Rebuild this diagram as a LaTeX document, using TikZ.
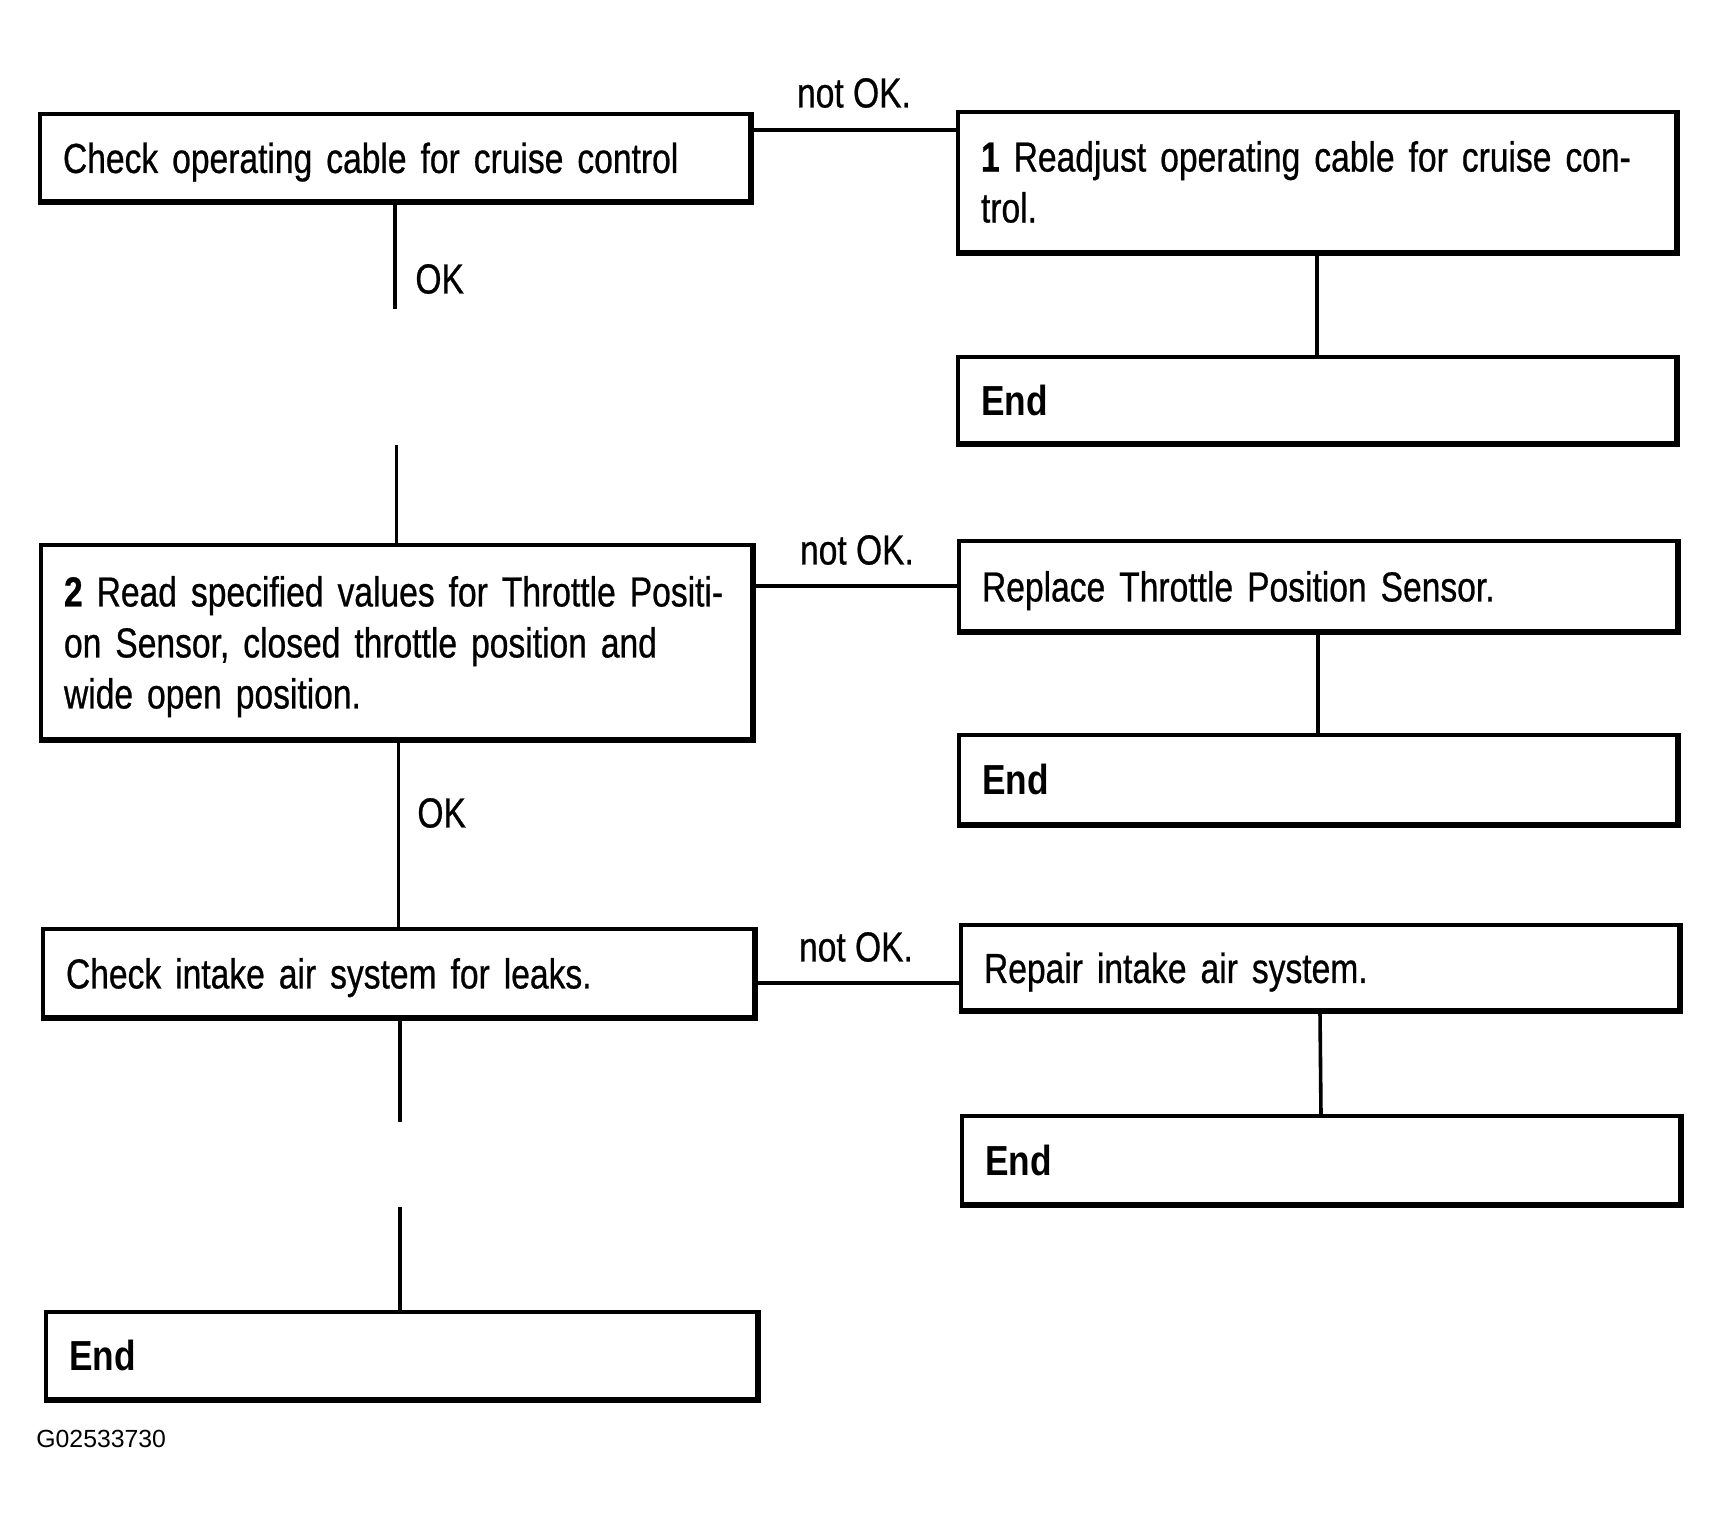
\documentclass[tikz,border=0pt]{standalone}
\usepackage{fontspec}
\setmainfont{Liberation Sans}[FakeStretch=0.80, FakeBold=0.6]
\newfontfamily\endfont{Liberation Sans}[FakeStretch=0.84]
\newfontfamily\codefont{Liberation Sans}
\newcommand{\lowstrut}{\rule{0pt}{19.8pt}}
\begin{document}
\begin{tikzpicture}[x=0.5pt,y=-0.5pt,
  box/.style={draw, line width=1.7pt, rectangle, inner xsep=11.5pt, inner ysep=0pt,
    align=left, font=\fontsize{21}{25.5}\selectfont, anchor=center},
  lbl/.style={font=\fontsize{21}{25.5}\selectfont, inner sep=0pt},
  conn/.style={line width=1.8pt},
  shade/.style={line width=2.4pt}
]
\fill[white] (0,0) rectangle (1721,1523);
\useasboundingbox (0,0) rectangle (1721,1523);

% left column
\node[box, text width=332pt, minimum height=43.5pt] (b1) at (395,157.5)
  {\lowstrut\mbox{Check operating cable for cruise control}};
\node[box, text width=332.5pt, minimum height=97pt] (b2) at (396.5,642)
  {\lowstrut\mbox{\textbf{2} Read specified values for Throttle Positi-}\\
   \mbox{on Sensor, closed throttle position and}\\
   \mbox{wide open position.}};
\node[box, text width=332.5pt, minimum height=44pt] (b3) at (398.5,973)
  {\lowstrut\mbox{Check intake air system for leaks.}};
\node[box, text width=332.5pt, minimum height=43.5pt] (be) at (401.5,1355.5)
  {{\endfont\bfseries End}};

% right column
\node[box, text width=336pt, minimum height=70pt] (r1) at (1317,182)
  {\mbox{\textbf{1} Readjust operating cable for cruise con-}\\\mbox{trol.}};
\node[box, text width=336pt, minimum height=43pt] (r1e) at (1317,400)
  {{\endfont\bfseries End}};
\node[box, text width=336pt, minimum height=45pt] (r2) at (1318,586)
  {\lowstrut\mbox{Replace Throttle Position Sensor.}};
\node[box, text width=336pt, minimum height=44.5pt] (r2e) at (1318,779.5)
  {{\endfont\bfseries End}};
\node[box, text width=336pt, minimum height=42.5pt] (r3) at (1320,967.5)
  {\lowstrut\mbox{Repair intake air system.}};
\node[box, text width=336pt, minimum height=44pt] (r3e) at (1321,1160)
  {{\endfont\bfseries End}};

% heavier bottom and right edges
\foreach \n in {b1,b2,b3,be,r1,r1e,r2,r2e,r3,r3e}
  \draw[shade] (\n.north east) -- (\n.south east) -- (\n.south west);

% not OK branches
\coordinate (h1) at (854,130);
\coordinate (h2) at (857,586);
\coordinate (h3) at (856,983);
\draw[conn] (b1.east |- h1) -- (r1.west |- h1);
\draw[conn] (b2.east |- h2) -- (r2.west |- h2);
\draw[conn] (b3.east |- h3) -- (r3.west |- h3);
\node[lbl] (n1) at (854,93) {not OK.};
\node[lbl] (n2) at (857,550) {not OK.};
\node[lbl] (n3) at (856,947) {not OK.};

% right verticals
\draw[conn] (r1.south) -- (r1e.north);
\draw[conn] (r2.south) -- (r2e.north);
\draw[conn] (r3.south) -- (r3e.north);

% left verticals
\coordinate (g1) at (396,309);
\coordinate (g2) at (396,445);
\draw[conn] (b1.south) -- (b1.south |- g1);
\draw[conn] (b2.north |- g2) -- (b2.north);
\node[lbl, anchor=west] (ok1) at (415,279) {OK};
\draw[conn] (b3.north |- b2.south) -- (b3.north);
\node[lbl, anchor=west] (ok2) at (417,813) {OK};
\coordinate (g3) at (400,1122);
\coordinate (g4) at (400,1207);
\draw[conn] (g3 |- b3.south) -- (g3);
\draw[conn] (g4) -- (g4 |- be.north);

\node[font=\codefont\fontsize{12.4}{14}\selectfont, anchor=west, inner sep=0pt] (code) at (36,1439) {G02533730};
\end{tikzpicture}
\end{document}
